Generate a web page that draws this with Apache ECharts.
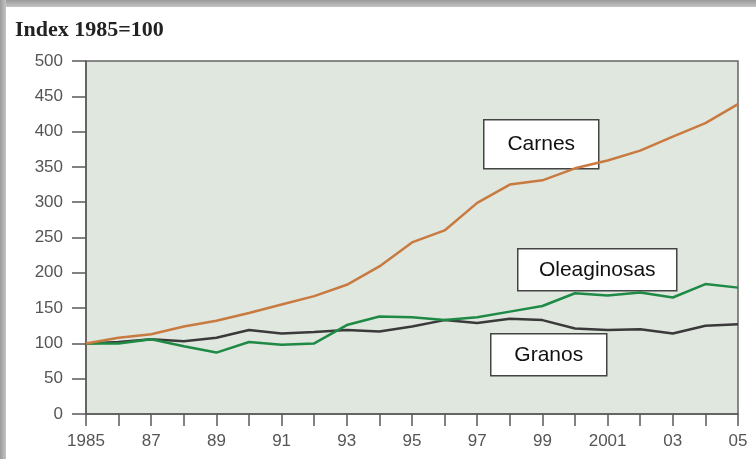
<!DOCTYPE html>
<html>
<head>
<meta charset="utf-8">
<script src="https://cdn.jsdelivr.net/npm/echarts@6/dist/echarts.min.js"></script>
<style>
html,body{margin:0;padding:0;background:#fff;}
#c{width:756px;height:459px;}
</style>
</head>
<body>
<div id="c"></div>
<script>
const years = ['1985','86','87','88','89','90','91','92','93','94','95','96','97','98','99','2000','2001','02','03','04','05'];
const carnes = [100,108,113,124,132,143,155,167,183,209,243,260,299,325,331,348,359,373,393,412,439];
const oleaginosas = [100,100,106,96,87,102,98,100,126,138,137,133,137,145,153,171,168,172,165,184,179];
const granos = [100,102,106,103,108,119,114,116,119,117,124,133,129,135,133,121,119,120,114,125,127];
const yTicks = {min:0, max:500, step:50};
const titleText = 'Index 1985=100';
const boxLabels = ['Carnes','Oleaginosas','Granos'];

const chart = echarts.init(document.getElementById('c'));
const axisColor = '#5a5a5a';
const labelColor = '#555';

function box(x, y, w, h, text){
  return {
    type:'group', left:x, top:y, z:100,
    children:[
      {type:'rect', shape:{x:0,y:0,width:w,height:h},
       style:{fill:'#fff', stroke:'#444', lineWidth:1.5}},
      {type:'text', x:w/2, y:h/2,
       style:{text:text, fill:'#111', font:'21px "Liberation Sans", Arial, sans-serif',
              align:'center', verticalAlign:'middle'}}
    ]
  };
}

chart.setOption({
  animation:false,
  backgroundColor:'#fff',
  title:{
    text:titleText, left:10, top:14,
    textStyle:{fontFamily:'"Liberation Serif", "Times New Roman", serif', fontWeight:'bold', fontSize:22, color:'#222'}
  },
  grid:{left:86, right:18, top:61, bottom:45, show:true, backgroundColor:'#dfe7de',
        borderColor:'#666', borderWidth:1.5},
  xAxis:{
    type:'category', data:years, boundaryGap:false,
    axisLine:{show:true, lineStyle:{color:axisColor, width:1.5}},
    axisTick:{show:true, interval:0, length:12, lineStyle:{color:axisColor, width:1.5}},
    axisLabel:{interval:1, color:labelColor, fontSize:17, margin:19,
               fontFamily:'"Liberation Sans", Arial, sans-serif'},
    splitLine:{show:false}
  },
  yAxis:{
    type:'value', min:yTicks.min, max:yTicks.max, interval:yTicks.step,
    axisLine:{show:true, lineStyle:{color:axisColor, width:1.5}},
    axisTick:{show:true, length:14, lineStyle:{color:axisColor, width:1.5}},
    axisLabel:{color:labelColor, fontSize:17, margin:23,
               fontFamily:'"Liberation Sans", Arial, sans-serif'},
    splitLine:{show:false}
  },
  series:[
    {name:'Granos', type:'line', data:granos, symbol:'none',
     lineStyle:{color:'#3a3a3a', width:2.5}, z:3},
    {name:'Oleaginosas', type:'line', data:oleaginosas, symbol:'none',
     lineStyle:{color:'#1f8a45', width:2.5}, z:4},
    {name:'Carnes', type:'line', data:carnes, symbol:'none',
     lineStyle:{color:'#c97a40', width:2.5}, z:5}
  ],
  graphic:[
    {type:'rect', left:0, top:0, z:200, shape:{width:756, height:7},
     style:{fill:new echarts.graphic.LinearGradient(0,0,0,1,[{offset:0,color:'#9a9a9a'},{offset:1,color:'#c4c4c4'}])}},
    {type:'rect', left:0, top:0, z:200, shape:{width:6, height:459},
     style:{fill:new echarts.graphic.LinearGradient(0,0,1,0,[{offset:0,color:'#9a9a9a'},{offset:1,color:'#c4c4c4'}])}},
    box(483,119,115,49,boxLabels[0]),
    box(517,248,159,42,boxLabels[1]),
    box(490,333,116,42,boxLabels[2])
  ]
});
</script>
</body>
</html>
